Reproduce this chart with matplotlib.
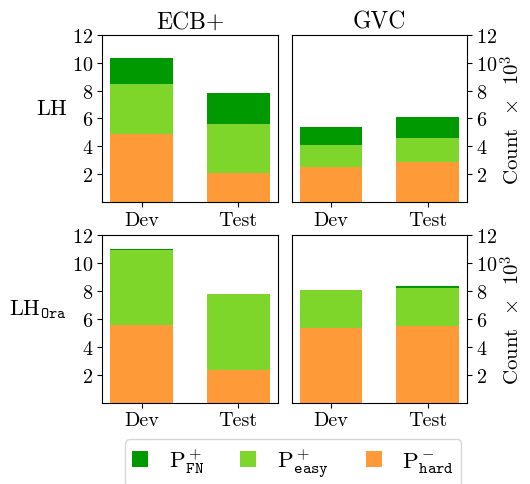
import matplotlib
matplotlib.use("Agg")
import matplotlib.pyplot as plt
import numpy as np

plt.rcParams['font.family'] = 'serif'
plt.rcParams['font.serif'] = ['cmr10', 'DejaVu Serif']
plt.rcParams['mathtext.fontset'] = 'cm'
plt.rcParams['axes.formatter.use_mathtext'] = True
plt.rcParams['axes.unicode_minus'] = False

splits = ['Dev', 'Test']
datasets = ['ECB+', 'GVC']
rows = ['LH', r'LH$_{\mathtt{Ora}}$']

# counts (x 10^3), per row, per dataset, per split
hard = {('LH', 'ECB+'): [4.9, 2.05], ('LH', 'GVC'): [2.48, 2.86],
        ('Ora', 'ECB+'): [5.58, 2.35], ('Ora', 'GVC'): [5.37, 5.46]}
easy = {('LH', 'ECB+'): [3.58, 3.57], ('LH', 'GVC'): [1.59, 1.76],
        ('Ora', 'ECB+'): [5.37, 5.41], ('Ora', 'GVC'): [2.71, 2.78]}
fn = {('LH', 'ECB+'): [1.86, 2.22], ('LH', 'GVC'): [1.34, 1.5],
      ('Ora', 'ECB+'): [0.04, 0.03], ('Ora', 'GVC'): [0.03, 0.14]}

c_fn = '#009a00'
c_easy = '#7fd62a'
c_hard = '#ff9a38'

fig, axes = plt.subplots(2, 2, figsize=(5.3, 4.85), dpi=100)
fig.subplots_adjust(left=0.193, right=0.881, top=0.926, bottom=0.168,
                    wspace=0.08, hspace=0.2)

x = np.arange(len(splits))
keys = ['LH', 'Ora']
for i, k in enumerate(keys):
    for j, d in enumerate(datasets):
        ax = axes[i, j]
        h = np.array(hard[(k, d)])
        e = np.array(easy[(k, d)])
        f = np.array(fn[(k, d)])
        ax.bar(x, h, width=0.65, color=c_hard, label=r'P$^-_{\mathtt{hard}}$')
        ax.bar(x, e, width=0.65, bottom=h, color=c_easy, label=r'P$^+_{\mathtt{easy}}$')
        ax.bar(x, f, width=0.65, bottom=h + e, color=c_fn, label=r'P$^+_{\mathtt{FN}}$')
        ax.set_ylim(0, 12)
        ax.set_yticks([2, 4, 6, 8, 10, 12])
        ax.set_xticks(x)
        ax.set_xticklabels(splits)
        ax.tick_params(labelsize=14.5, direction='out', pad=3)
        if j == 1:
            ax.yaxis.tick_right()
            ax.yaxis.set_label_position('right')
            ax.set_ylabel(r'Count $\,\times\,$ 10$^3$', fontsize=15, labelpad=2)
        else:
            ax.set_ylabel(rows[i], fontsize=16, rotation=0, ha='right', va='center')
            ax.yaxis.set_label_coords(-0.2, 0.56)
        if i == 0:
            ax.set_title(d, fontsize=17, pad=5)

handles, labels = axes[0, 0].get_legend_handles_labels()
fig.legend(handles[::-1], labels[::-1], loc='lower center', ncol=3,
           bbox_to_anchor=(0.553, -0.028), fontsize=16.5, handlelength=0.7,
           handleheight=0.7, columnspacing=1.6, borderpad=0.3, handletextpad=0.9)

fig.savefig('out.png', dpi=100)
